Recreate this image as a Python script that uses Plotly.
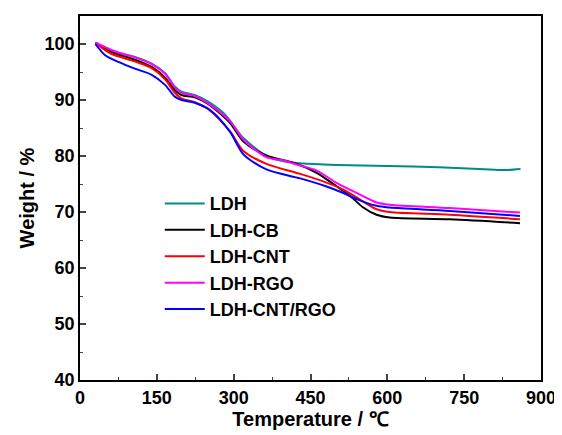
import plotly.graph_objects as go

names = ["LDH", "LDH-CB", "LDH-CNT", "LDH-RGO", "LDH-CNT/RGO"]
colors = ["#008B8B", "#000000", "#FF0000", "#FF00FF", "#0000FF"]

ldh_t = [30, 45, 68, 107, 140, 166, 185, 198, 224, 250, 283, 319, 364, 400, 430, 500, 600, 700, 800, 830, 860]
ldh_w = [100.2, 99.5, 98.6, 97.7, 96.5, 94.8, 92.4, 91.5, 90.9, 89.7, 87.4, 83.2, 80.0, 79.0, 78.7, 78.4, 78.2, 78.0, 77.6, 77.5, 77.7]

cb_t = [30, 60, 107, 140, 166, 185, 198, 224, 250, 293, 319, 364, 420, 462, 501, 527, 553, 579, 605, 722, 859]
cb_w = [100.2, 98.6, 97.2, 95.9, 94.0, 91.8, 90.9, 90.5, 89.3, 85.9, 82.6, 80.1, 78.7, 77.0, 74.6, 72.9, 70.8, 69.5, 69.0, 68.7, 68.0]

cnt_t = [30, 60, 107, 140, 166, 185, 198, 224, 250, 293, 319, 364, 430, 480, 514, 540, 579, 605, 722, 859]
cnt_w = [100.2, 98.3, 96.9, 95.7, 93.7, 91.3, 90.3, 89.6, 88.4, 84.4, 80.9, 78.6, 76.8, 75.3, 74.0, 72.6, 70.5, 70.0, 69.5, 68.7]

rgo_t = [30, 68, 107, 140, 166, 185, 198, 224, 250, 293, 319, 364, 397, 430, 462, 501, 540, 579, 605, 722, 859]
rgo_w = [100.3, 98.7, 97.6, 96.4, 94.7, 92.3, 91.3, 90.7, 89.4, 86.2, 82.9, 79.8, 79.2, 78.3, 77.4, 75.2, 73.4, 71.7, 71.3, 70.7, 69.9]

cntrgo_t = [30, 49, 75, 107, 140, 166, 185, 198, 224, 257, 293, 319, 364, 430, 480, 514, 540, 579, 605, 722, 859]
cntrgo_w = [100.0, 98.0, 96.8, 95.6, 94.5, 92.7, 90.6, 90.0, 89.5, 88.0, 84.3, 80.3, 77.6, 76.0, 74.6, 73.4, 72.3, 71.1, 70.8, 70.2, 69.3]

x_ticks = [0, 150, 300, 450, 600, 750, 900]
y_ticks = [40, 50, 60, 70, 80, 90, 100]

series = [(ldh_t, ldh_w), (cb_t, cb_w), (cnt_t, cnt_w), (rgo_t, rgo_w), (cntrgo_t, cntrgo_w)]

fig = go.Figure()
for (t, w), n, c in zip(series, names, colors):
    fig.add_trace(go.Scatter(x=t, y=w, name=n, mode="lines",
                             line=dict(color=c, width=2, shape="spline", smoothing=0.8)))

font = "Liberation Sans, Arial, sans-serif"
fig.update_layout(
    width=562, height=435,
    margin=dict(l=72, r=29, t=6, b=63),
    paper_bgcolor="white", plot_bgcolor="white",
    font=dict(family=font, size=18, color="black"),
    showlegend=True,
    legend=dict(x=0.173, y=0.535, xanchor="left", yanchor="top",
                bgcolor="rgba(0,0,0,0)", font=dict(size=18, family=font, weight="bold"),
                tracegroupgap=0, itemwidth=40),
)
fig.update_xaxes(range=[0, 900], tickvals=x_ticks, ticks="inside", ticklen=6, tickwidth=1.5,
                 showline=True, linewidth=1.8, linecolor="black", mirror=True, showgrid=False,
                 zeroline=False, tickfont=dict(size=18, family=font, weight="bold"),
                 title=dict(text="Temperature / ℃", font=dict(size=20, family=font, weight="bold"), standoff=4),
                 minor=dict(ticks="inside", ticklen=3, tickwidth=1.2, dtick=75, tick0=0, showgrid=False))
fig.update_yaxes(range=[40, 105], tickvals=y_ticks, ticks="inside", ticklen=6, tickwidth=1.5,
                 showline=True, linewidth=1.8, linecolor="black", mirror=True, showgrid=False,
                 zeroline=False, tickfont=dict(size=18, family=font, weight="bold"),
                 title=dict(text="Weight / %", font=dict(size=20, family=font, weight="bold"), standoff=4),
                 minor=dict(ticks="inside", ticklen=3, tickwidth=1.2, dtick=5, tick0=0, showgrid=False))

fig.write_html("out.html")
